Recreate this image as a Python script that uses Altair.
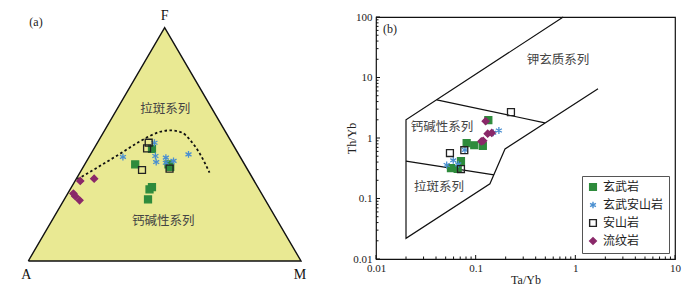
import math
import altair as alt
import pandas as pd

# ---------------- legend / categories ----------------
ROCKS = ["玄武岩", "玄武安山岩", "安山岩", "流纹岩"]
FILLS = ["#2e8b3c", "rgba(0,0,0,0)", "rgba(0,0,0,0)", "#8a2869"]
STROKES = ["#2e8b3c", "#4a8fd0", "#222222", "#8a2869"]
STAR = "M0,-1L0,1M-0.87,-0.5L0.87,0.5M-0.87,0.5L0.87,-0.5"
SHAPES = ["square", STAR, "square", "diamond"]

# ---------------- panel (a): AFM ternary (percent) ----------------
basalt_A = [30.6, 40.1, 27.9, 27.8, 38.8, 40.2, 42.9]
basalt_F = [48.1, 41.4, 41.4, 40.3, 31.7, 30.7, 26.4]
basalt_M = [21.3, 18.5, 30.7, 31.9, 29.5, 29.1, 30.7]

bandesite_A = [43.0, 28.4, 30.9, 31.9, 27.4, 28.5, 25.3, 18.4]
bandesite_F = [44.6, 50.7, 45.0, 42.4, 44.3, 42.1, 42.9, 45.7]
bandesite_M = [12.4, 20.9, 24.1, 25.7, 28.3, 29.4, 31.8, 35.9]

andesite_A = [30.5, 32.3, 38.8, 28.4]
andesite_F = [50.7, 48.3, 39.0, 39.6]
andesite_M = [18.8, 19.4, 22.2, 32.0]

rhyolite_A = [63.8, 58.2, 69.0, 68.9, 68.2]
rhyolite_F = [34.3, 35.3, 28.9, 27.8, 26.0]
rhyolite_M = [1.9, 6.5, 2.1, 3.3, 5.8]

# Irvine & Baragar boundary (dashed)
curve_A = [64.5, 43.3, 33.2, 28.4, 23.9, 19.9, 16.1, 14.7, 14.1, 14.6]
curve_F = [35.0, 46.0, 51.4, 53.7, 55.4, 56.0, 55.0, 51.7, 45.7, 37.9]
curve_M = [0.5, 10.7, 15.4, 17.9, 20.7, 24.1, 28.9, 33.6, 40.2, 47.5]

# triangle vertices A, F, M, A
tri_A = [100, 0, 0, 100]
tri_F = [0, 100, 0, 0]
tri_M = [0, 0, 100, 0]

# field labels
fieldA_text = ["拉斑系列", "钙碱性系列"]
fieldA_A = [17.1, 41.9]
fieldA_F = [65.3, 17.3]
fieldA_M = [17.6, 40.8]

# ---------------- panel (b): Th/Yb vs Ta/Yb ----------------
b_basalt_x = [0.134, 0.0812, 0.0968, 0.118, 0.0712, 0.0565, 0.066]
b_basalt_y = [1.97, 0.824, 0.759, 0.74, 0.414, 0.318, 0.31]
b_bandesite_x = [0.0512, 0.0596, 0.0669, 0.0781, 0.150, 0.171]
b_bandesite_y = [0.358, 0.428, 0.367, 0.635, 1.22, 1.33]
b_andesite_x = [0.0552, 0.0769, 0.0712, 0.226]
b_andesite_y = [0.564, 0.628, 0.307, 2.68]
b_rhyolite_x = [0.126, 0.132, 0.119, 0.114, 0.145]
b_rhyolite_y = [1.90, 1.18, 0.898, 0.88, 1.21]

outer_x = [0.756, 0.02, 0.02, 0.139, 0.197, 1.69]
outer_y = [100, 2.0, 0.022, 0.175, 0.658, 6.49]
upper_x = [0.0407, 0.495]
upper_y = [4.27, 1.78]
lower_x = [0.02, 0.153]
lower_y = [0.414, 0.245]

fieldB_text = ["钾玄质系列", "钙碱性系列", "拉斑系列"]
fieldB_x = [0.669, 0.0459, 0.0428]
fieldB_y = [19.7, 1.50, 0.157]

x_major = [0.01, 0.1, 1, 10]
y_major = [0.01, 0.1, 1, 10, 100]
x_minor = [k * 10.0 ** e for e in (-2, -1, 0) for k in range(2, 10)]
y_minor = [k * 10.0 ** e for e in (-2, -1, 0, 1) for k in range(2, 10)]

# ---------------- helpers ----------------
SQ3 = math.sqrt(3) / 2
SERIF = "Liberation Serif"
CJK = "Noto Sans CJK SC"


def ternary(df):
    df = df.copy()
    df["X"] = (df["M"] + df["F"] / 2) / 100
    df["Y"] = df["F"] * SQ3 / 100
    return df


pts_a = ternary(pd.concat([
    pd.DataFrame({"rock": ROCKS[0], "A": basalt_A, "F": basalt_F, "M": basalt_M}),
    pd.DataFrame({"rock": ROCKS[1], "A": bandesite_A, "F": bandesite_F, "M": bandesite_M}),
    pd.DataFrame({"rock": ROCKS[2], "A": andesite_A, "F": andesite_F, "M": andesite_M}),
    pd.DataFrame({"rock": ROCKS[3], "A": rhyolite_A, "F": rhyolite_F, "M": rhyolite_M}),
], ignore_index=True))
curve_df = ternary(pd.DataFrame({"A": curve_A, "F": curve_F, "M": curve_M}))
tri_df = ternary(pd.DataFrame({"A": tri_A, "F": tri_F, "M": tri_M}))
tri_df["i"] = range(len(tri_df))
tri_df["Y0"] = 0.0
lab_a = ternary(pd.DataFrame({"t": fieldA_text, "A": fieldA_A, "F": fieldA_F, "M": fieldA_M}))
vert = tri_df.iloc[:3].copy()
vert["t"] = ["A", "F", "M"]

pts_b = pd.concat([
    pd.DataFrame({"rock": ROCKS[0], "tx": b_basalt_x, "ty": b_basalt_y}),
    pd.DataFrame({"rock": ROCKS[1], "tx": b_bandesite_x, "ty": b_bandesite_y}),
    pd.DataFrame({"rock": ROCKS[2], "tx": b_andesite_x, "ty": b_andesite_y}),
    pd.DataFrame({"rock": ROCKS[3], "tx": b_rhyolite_x, "ty": b_rhyolite_y}),
], ignore_index=True)
lines_b = pd.concat([
    pd.DataFrame({"seg": "outer", "tx": outer_x, "ty": outer_y, "i": range(len(outer_x))}),
    pd.DataFrame({"seg": "upper", "tx": upper_x, "ty": upper_y, "i": range(len(upper_x))}),
    pd.DataFrame({"seg": "lower", "tx": lower_x, "ty": lower_y, "i": range(len(lower_x))}),
], ignore_index=True)
lab_b = pd.DataFrame({"t": fieldB_text, "tx": fieldB_x, "ty": fieldB_y})

# ---------------- layout ----------------
WA, HA = 330, 242
PXU = 272.7          # pixels per unit side of triangle
PYU = 269.4          # pixels per unit height
BASE_LOCAL = 244.0   # triangle base, pixels below plot top
XA0 = -20.3 / PXU
XA1 = XA0 + WA / PXU
YA0 = (BASE_LOCAL - HA) / PYU
YA1 = YA0 + HA / PYU
WB, HB = 299, 242
GAP = 368 - WA

xs_a = alt.Scale(domain=[XA0, XA1], nice=False, zero=False)
ys_a = alt.Scale(domain=[YA0, YA1], nice=False, zero=False)
xa = alt.X("X:Q", scale=xs_a, axis=None)
ya = alt.Y("Y:Q", scale=ys_a, axis=None)


def rock_enc(show_legend):
    leg = alt.Legend(title=None, orient="bottom-right", offset=6, padding=5,
                     strokeColor="#555555", fillColor="white",
                     labelFont=CJK, labelFontSize=12, labelColor="#222222",
                     symbolSize=45, symbolStrokeWidth=1.4, rowPadding=4,
                     labelOffset=4) if show_legend else None
    return dict(
        fill=alt.Fill("rock:N", scale=alt.Scale(domain=ROCKS, range=FILLS), legend=leg),
        stroke=alt.Stroke("rock:N", scale=alt.Scale(domain=ROCKS, range=STROKES), legend=leg),
        shape=alt.Shape("rock:N", scale=alt.Scale(domain=ROCKS, range=SHAPES), legend=leg),
    )


tri_fill = alt.Chart(tri_df.iloc[:3]).mark_area(color="#e9e993").encode(
    x=xa, y=ya, y2="Y0:Q")
tri_line = alt.Chart(tri_df).mark_line(color="#111111", strokeWidth=1.4).encode(
    x=xa, y=ya, order="i:Q")
curve = alt.Chart(curve_df).mark_line(color="#111111", strokeWidth=1.8,
                                      strokeDash=[2.5, 2.5], interpolate="monotone").encode(x=xa, y=ya)
pts_a_chart = alt.Chart(pts_a).mark_point(opacity=1, strokeWidth=1.3, size=48).encode(
    x=xa, y=ya, **rock_enc(False))
lab_a_chart = alt.Chart(lab_a).mark_text(font=CJK, fontSize=12.5, color="#444444").encode(
    x=xa, y=ya, text="t:N")
vA = alt.Chart(vert.iloc[[0]]).mark_text(font=SERIF, fontSize=14, color="#111111", dx=-2, dy=14).encode(
    x=xa, y=ya, text="t:N")
vF = alt.Chart(vert.iloc[[1]]).mark_text(font=SERIF, fontSize=14, color="#111111", dy=-12).encode(
    x=xa, y=ya, text="t:N")
vM = alt.Chart(vert.iloc[[2]]).mark_text(font=SERIF, fontSize=14, color="#111111", dx=-1, dy=14).encode(
    x=xa, y=ya, text="t:N")
tag_a = alt.Chart(pd.DataFrame({"t": ["(a)"]})).mark_text(font=SERIF, fontSize=12, color="#222222").encode(
    x=alt.value(28), y=alt.value(5), text="t:N")

panel_a = alt.layer(tri_fill, tri_line, curve, pts_a_chart, lab_a_chart, vA, vF, vM, tag_a).properties(
    width=WA, height=HA, view=alt.ViewBackground(stroke="transparent", strokeWidth=0))

# panel b
xs_b = alt.Scale(type="log", domain=[0.01, 10], nice=False)
ys_b = alt.Scale(type="log", domain=[0.01, 100], nice=False)
xb_axis = alt.Axis(values=x_major, format="~g", ticks=False, domain=False, grid=False,
                   labelFont=SERIF, labelFontSize=11, labelColor="#222222", labelPadding=3,
                   labelFlush=False, title="Ta/Yb", titleFont=SERIF, titleFontSize=12,
                   titleFontWeight="normal", titleColor="#222222", titlePadding=1)
yb_axis = alt.Axis(values=y_major, format="~g", ticks=False, domain=False, grid=False,
                   labelFont=SERIF, labelFontSize=11, labelColor="#222222", labelPadding=4,
                   labelFlush=False, title="Th/Yb", titleFont=SERIF, titleFontSize=12,
                   titleFontWeight="normal", titleColor="#222222", titleX=-18)
xb = alt.X("tx:Q", scale=xs_b, axis=xb_axis)
yb = alt.Y("ty:Q", scale=ys_b, axis=yb_axis)

lines_chart = alt.Chart(lines_b).mark_line(color="#111111", strokeWidth=1.2).encode(
    x=xb, y=yb, detail="seg:N", order="i:Q")
pts_b_chart = alt.Chart(pts_b).mark_point(opacity=1, strokeWidth=1.3, size=48).encode(
    x=xb, y=yb, **rock_enc(True))
lab_b_chart = alt.Chart(lab_b).mark_text(font=CJK, fontSize=12.5, color="#444444").encode(
    x=xb, y=yb, text="t:N")
tag_b = alt.Chart(pd.DataFrame({"t": ["(b)"]})).mark_text(font=SERIF, fontSize=12, color="#222222").encode(
    x=alt.value(14), y=alt.value(12), text="t:N")

xt_major = alt.Chart(pd.DataFrame({"tx": x_major})).mark_rule(color="#111111").encode(
    x=xb, y=alt.value(HB), y2=alt.value(HB - 4))
xt_minor = alt.Chart(pd.DataFrame({"tx": x_minor})).mark_rule(color="#111111").encode(
    x=xb, y=alt.value(HB), y2=alt.value(HB - 2.5))
yt_major = alt.Chart(pd.DataFrame({"ty": y_major})).mark_rule(color="#111111").encode(
    y=yb, x=alt.value(0), x2=alt.value(4))
yt_minor = alt.Chart(pd.DataFrame({"ty": y_minor})).mark_rule(color="#111111").encode(
    y=yb, x=alt.value(0), x2=alt.value(2.5))

panel_b = alt.layer(lines_chart, xt_major, xt_minor, yt_major, yt_minor, lab_b_chart,
                    pts_b_chart, tag_b).properties(
    width=WB, height=HB, view=alt.ViewBackground(stroke="#111111", strokeWidth=1.2))

chart = alt.hconcat(panel_a, panel_b, spacing=GAP, bounds="flush").resolve_scale(
    fill="independent", stroke="independent", shape="independent"
).properties(padding=0).configure_view(strokeWidth=0).configure(background="white")

chart.save("out.html", embed_options={"renderer": "svg", "actions": False})
